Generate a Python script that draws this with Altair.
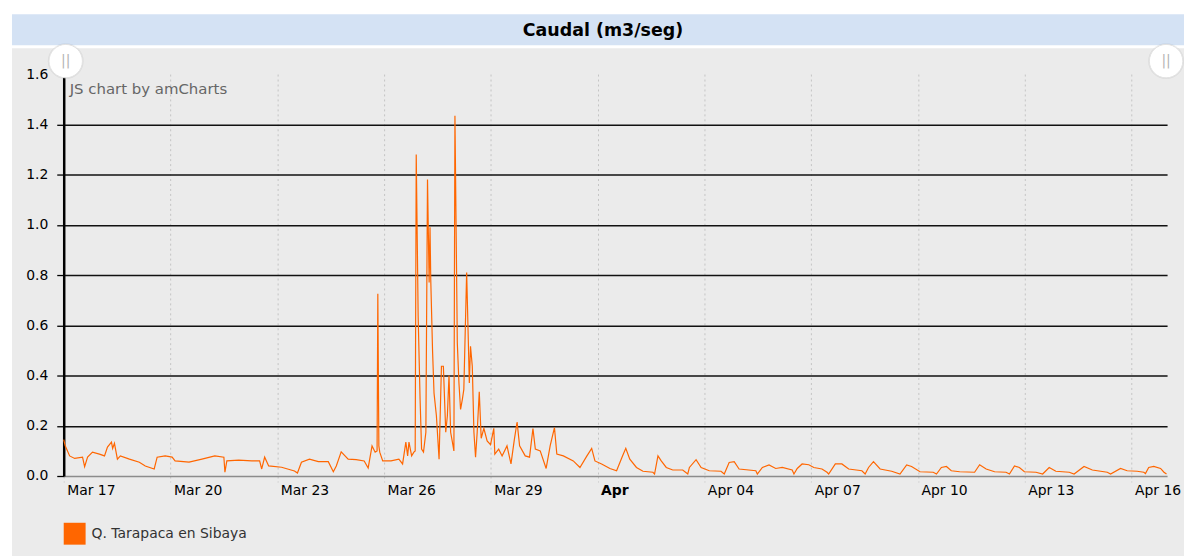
import altair as alt
import pandas as pd

chart_title = "Caudal (m3/seg)"
series_name = "Q. Tarapaca en Sibaya"
credit_text = "JS chart by amCharts"
start_date = "2019-03-17T04:00:00"

# hours after the start time and discharge (m3/seg)
hours = [
    -4.0, -3.0, 0.0, 3.4, 8.7, 10.1, 12.1, 15.4, 20.1, 23.5, 25.5, 28.2, 29.0, 30.2, 32.2,
    34.2, 40.3, 47.0, 51.0, 57.0, 59.0, 64.4, 69.1, 71.1, 80.5, 89.2, 97.9, 104.0, 104.7,
    106.0, 114.0, 122.8, 128.1, 129.5, 131.5, 134.2, 142.9, 151.6, 153.6, 156.3, 161.7,
    167.7, 174.4, 177.8, 179.8, 183.1, 187.8, 193.2, 198.6, 201.3, 203.9, 206.0, 207.3,
    207.8, 208.5, 209.1, 211.1, 216.7, 222.0, 224.5, 226.7, 227.9, 228.8, 230.6, 232.1,
    233.0, 233.7, 235.0, 236.3, 237.3, 238.6, 240.2, 241.3, 242.4, 243.0, 243.5, 244.7,
    245.7, 247.3, 249.1, 250.7, 252.0, 253.6, 254.7, 255.8, 256.9, 258.1, 259.1, 259.8,
    261.4, 262.5, 263.6, 264.8, 265.8, 267.7, 268.8, 269.5, 270.3, 271.5, 272.6, 273.7,
    274.8, 276.2, 277.5, 279.3, 281.5, 283.8, 286.0, 286.7, 289.3, 291.6, 294.9, 297.6,
    299.9, 301.7, 303.4, 307.2, 310.1, 312.4, 314.0, 317.3, 321.3, 324.0, 326.9, 328.5,
    332.9, 339.6, 344.1, 348.6, 352.0, 354.2, 358.7, 364.3, 368.8, 372.8, 375.0, 377.7,
    382.2, 386.6, 393.3, 394.4, 396.7, 398.9, 402.3, 406.7, 413.4, 416.8, 417.9, 422.4,
    425.8, 431.3, 439.2, 441.4, 444.7, 448.1, 451.4, 462.7, 463.7, 467.1, 471.6, 476.1,
    480.5, 487.2, 488.4, 490.6, 493.9, 498.4, 501.8, 507.3, 510.7, 511.8, 516.3, 520.7,
    525.3, 534.2, 536.4, 538.7, 542.0, 546.5, 554.3, 559.9, 564.4, 567.7, 573.4, 582.3,
    584.5, 587.8, 591.2, 594.5, 600.2, 610.2, 613.6, 618.0, 623.7, 631.4, 633.7, 637.1,
    640.4, 643.8, 651.6, 656.1, 660.5, 665.0, 674.0, 677.3, 684.0, 689.6, 699.7, 701.9,
    708.6, 713.1, 719.8, 724.3, 725.4, 727.6, 731.0, 735.6, 737.9, 739.6,
]
values = [
    0.145, 0.12, 0.08, 0.07, 0.075, 0.037, 0.075, 0.095, 0.087, 0.08, 0.115, 0.135, 0.11, 0.13, 0.067,
    0.08, 0.067, 0.055, 0.04, 0.028, 0.075, 0.08, 0.075, 0.06, 0.055, 0.067, 0.08, 0.075, 0.015,
    0.06, 0.063, 0.06, 0.06, 0.028, 0.075, 0.04, 0.035, 0.02, 0.012, 0.055, 0.067,
    0.057, 0.057, 0.017, 0.04, 0.096, 0.067, 0.065, 0.06, 0.032, 0.12, 0.095, 0.10,
    0.725, 0.12, 0.095, 0.06, 0.06, 0.067, 0.048, 0.135, 0.08, 0.135, 0.08, 0.095,
    0.10, 1.28, 0.635, 0.305, 0.107, 0.095, 0.174, 1.18, 0.77, 0.99, 0.78, 0.50,
    0.33, 0.24, 0.067, 0.437, 0.437, 0.174, 0.24, 0.40, 0.174, 0.135, 0.10, 1.434,
    0.53, 0.37, 0.265, 0.305, 0.345, 0.81, 0.543, 0.37, 0.516, 0.437, 0.174, 0.075,
    0.174, 0.335, 0.15, 0.19, 0.14, 0.125, 0.19, 0.087, 0.107, 0.08, 0.12, 0.048,
    0.147, 0.215, 0.12, 0.08, 0.075, 0.189, 0.107, 0.10, 0.03, 0.12, 0.193, 0.087,
    0.08, 0.06, 0.034, 0.078, 0.11, 0.06, 0.048, 0.03, 0.021, 0.08, 0.11, 0.067,
    0.034, 0.019, 0.015, 0.008, 0.08, 0.06, 0.034, 0.024, 0.024, 0.008, 0.034, 0.065,
    0.034, 0.021, 0.019, 0.008, 0.054, 0.057, 0.028, 0.021, 0.008, 0.034, 0.044, 0.03,
    0.034, 0.024, 0.008, 0.03, 0.048, 0.045, 0.034, 0.028, 0.015, 0.008, 0.048, 0.048,
    0.028, 0.021, 0.008, 0.034, 0.057, 0.028, 0.019, 0.008, 0.044, 0.038, 0.017, 0.015,
    0.008, 0.034, 0.038, 0.021, 0.017, 0.015, 0.045, 0.028, 0.017, 0.015, 0.008, 0.04,
    0.034, 0.017, 0.015, 0.008, 0.034, 0.019, 0.015, 0.008, 0.038, 0.024, 0.015, 0.008,
    0.03, 0.021, 0.019, 0.015, 0.01, 0.034, 0.038, 0.03, 0.015, 0.008,
]

# tick dates (year, month, day) and y ticks
x_ticks = [(2019, 3, 17), (2019, 3, 20), (2019, 3, 23), (2019, 3, 26), (2019, 3, 29),
           (2019, 4, 1), (2019, 4, 4), (2019, 4, 7), (2019, 4, 10), (2019, 4, 13), (2019, 4, 16)]
x_domain = [(2019, 3, 17), (2019, 4, 17)]
y_ticks = [0.0, 0.2, 0.4, 0.6, 0.8, 1.0, 1.2, 1.4, 1.6]

FONT = "DejaVu Sans"
ORANGE = "#ff6600"
W, H = 1109, 404

base = pd.Timestamp(start_date)
df = pd.DataFrame({
    "time": [(base + pd.Timedelta(hours=h)).strftime("%Y-%m-%dT%H:%M:%S") for h in hours],
    "value": values,
    "series": series_name,
})

def dt(t):
    return alt.DateTime(year=t[0], month=t[1], date=t[2])

line = alt.Chart(df).mark_line(color=ORANGE, strokeWidth=1.2, interpolate="linear").encode(
    x=alt.X("time:T", title=None,
            scale=alt.Scale(domain=[dt(t) for t in x_domain], nice=False),
            axis=alt.Axis(values=[dt(t) for t in x_ticks],
                          labelExpr="date(datum.value) == 1 ? timeFormat(datum.value, '%b') : timeFormat(datum.value, '%b %d')",
                          labelFontWeight={"condition": {"test": "date(datum.value) == 1", "value": "bold"}, "value": "normal"},
                          labelAlign="left", labelOffset=3, labelPadding=2, labelBaseline="top",
                          labelFont=FONT, labelFontSize=14, labelColor="#000",
                          labelOverlap=False, labelFlush=False, labelBound=False,
                          grid=True, gridColor="#c4c4c4", gridDash=[2, 3], gridWidth=1,
                          ticks=True, tickColor="#c4c4c4", tickDash=[2, 3], tickSize=6,
                          domainColor="#8c8c8c", domainWidth=1.5)),
    y=alt.Y("value:Q", title=None,
            scale=alt.Scale(domain=[0, 1.6], nice=False, zero=True),
            axis=alt.Axis(values=y_ticks, format=".1f",
                          labelFont=FONT, labelFontSize=14, labelColor="#000", labelPadding=9,
                          grid=True, gridColor="#111111", gridWidth=1.4,
                          gridOpacity={"condition": {"test": "datum.value < 0.01 || datum.value > 1.59", "value": 0}, "value": 1},
                          ticks=True, tickColor="#000", tickSize=7, tickWidth=1.3,
                          domainColor="#000", domainWidth=2.5)),
)

one = pd.DataFrame({"k": [0]})

top_white = alt.Chart(one).mark_rect(color="white").encode(
    x=alt.value(-60), x2=alt.value(1135), y=alt.value(-70), y2=alt.value(-26))
left_white = alt.Chart(one).mark_rect(color="white").encode(
    x=alt.value(-60), x2=alt.value(-52), y=alt.value(-70), y2=alt.value(495))
blue_bar = alt.Chart(one).mark_rect(color="#d4e2f4").encode(
    x=alt.value(-52), x2=alt.value(1128), y=alt.value(-60), y2=alt.value(-29))
title_txt = alt.Chart(one).mark_text(font=FONT, fontSize=17.5, fontWeight="bold", color="#000",
                                     align="center", baseline="middle").encode(
    x=alt.value(542), y=alt.value(-43), text=alt.value(chart_title))
credit = alt.Chart(one).mark_text(font=FONT, fontSize=15, color="#666", align="left",
                                  baseline="middle").encode(
    x=alt.value(6), y=alt.value(15), text=alt.value(credit_text))

handles_df = pd.DataFrame({"hx": [2, 1108], "hy": [-13, -13]})
handle_shadow = alt.Chart(handles_df).mark_point(shape="circle", filled=True, fill="#000", size=1300,
                                                 opacity=0.06).encode(
    x=alt.X("hx:Q", scale=None), y=alt.Y("hy:Q", scale=None))
handles = alt.Chart(handles_df).mark_point(shape="circle", filled=True, fill="white", size=1130,
                                           stroke="#e2e2e2", strokeWidth=1, opacity=1).encode(
    x=alt.X("hx:Q", scale=None), y=alt.Y("hy:Q", scale=None))
handle_marks = alt.Chart(handles_df).mark_text(font=FONT, fontSize=14, color="#b5b5b5",
                                               align="center", baseline="middle").encode(
    x=alt.X("hx:Q", scale=None), y=alt.Y("hy:Q", scale=None), text=alt.value("||"))

legend_sq = alt.Chart(one).mark_rect(color=ORANGE).encode(
    x=alt.value(0), x2=alt.value(22), y=alt.value(451), y2=alt.value(473))
legend_txt = alt.Chart(one).mark_text(font=FONT, fontSize=14, color="#333", align="left",
                                      baseline="middle").encode(
    x=alt.value(28), y=alt.value(462), text=alt.value(series_name))

chart = alt.layer(
    top_white, left_white, blue_bar, title_txt, line, credit, handle_shadow, handles, handle_marks,
    legend_sq, legend_txt,
).properties(
    width=W, height=H,
    padding={"left": 56, "top": 65, "right": 17, "bottom": 79},
    autosize=alt.AutoSizeParams(type="none"),
    background="#ebebeb",
).configure_view(strokeWidth=0, fill=None)

chart.save("out.html", embed_options={"renderer": "svg", "actions": False})
